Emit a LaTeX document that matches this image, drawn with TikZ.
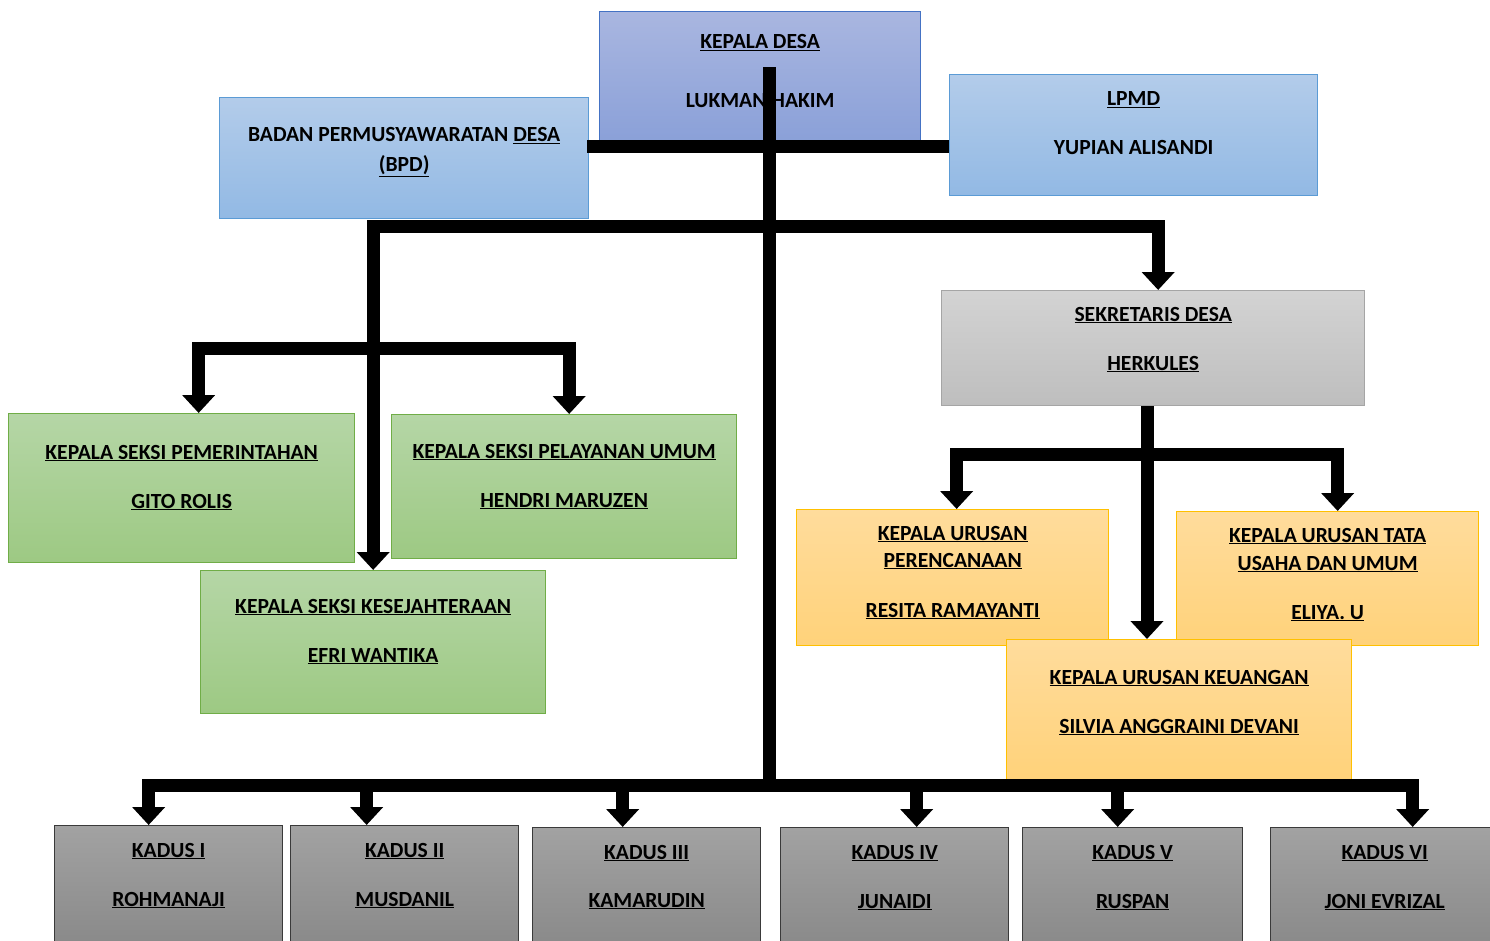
\documentclass[tikz,border=0pt]{standalone}
\usepackage{fontspec}
\setmainfont{Carlito}
\usetikzlibrary{positioning,arrows.meta}
\definecolor{hdtop}{HTML}{A9B6E0}
\definecolor{hdbot}{HTML}{8AA0D8}
\definecolor{hdline}{HTML}{4472C4}
\definecolor{bltop}{HTML}{B3CCEA}
\definecolor{blbot}{HTML}{92B9E4}
\definecolor{blline}{HTML}{5B9BD5}
\definecolor{grtop}{HTML}{D3D3D3}
\definecolor{grbot}{HTML}{BEBEBE}
\definecolor{grline}{HTML}{A5A5A5}
\definecolor{gntop}{HTML}{B5D6A6}
\definecolor{gnbot}{HTML}{9DC983}
\definecolor{gnline}{HTML}{70AD47}
\definecolor{ortop}{HTML}{FFDC9C}
\definecolor{orbot}{HTML}{FFD27A}
\definecolor{orline}{HTML}{FFC000}
\definecolor{kdtop}{HTML}{A2A2A2}
\definecolor{kdbot}{HTML}{858585}
\definecolor{kdline}{HTML}{3A3A3A}
\newcommand{\unl}[1]{\underline{#1}}

\begin{document}
\begin{tikzpicture}[
  x=1pt, y=-1pt,
  bx/.style={rectangle, anchor=north west, line width=1.3pt, inner sep=0pt},
  bxhead/.style={bx, draw=hdline, top color=hdtop, bottom color=hdbot},
  bxblue/.style={bx, draw=blline, top color=bltop, bottom color=blbot},
  bxgrey/.style={bx, draw=grline, top color=grtop, bottom color=grbot},
  bxgreen/.style={bx, draw=gnline, top color=gntop, bottom color=gnbot},
  bxorange/.style={bx, draw=orline, top color=ortop, bottom color=orbot},
  bxkadus/.style={bx, draw=kdline, top color=kdtop, bottom color=kdbot},
  lbl/.style={anchor=base, inner sep=0pt, font=\fontsize{21.6}{24}\selectfont\bfseries},
  conn/.style={line width=13pt, line join=miter, line cap=rect, black},
  tipend/.style={-{Triangle[width=32pt,length=18pt]}},
  tipboth/.style={{Triangle[width=32pt,length=18pt]}-{Triangle[width=32pt,length=18pt]}},
]
\useasboundingbox (0,0) rectangle (1490,941);
\fill[white] (0,0) rectangle (1490,941);

% --- Top level ---
\node[bxhead, minimum width=321pt, minimum height=131pt] (kades) at (599,11) {};
\node[lbl] at ([yshift=-38pt]kades.north)
  {\begin{tabular}[t]{@{}c@{}}\unl{KEPALA DESA}\\[35pt]LUKMAN HAKIM\end{tabular}};

\node[bxblue, minimum width=369pt, minimum height=121pt] (bpd) at (219,97) {};
\node[lbl] at ([yshift=-45pt]bpd.north)
  {\begin{tabular}[t]{@{}c@{}}BADAN PERMUSYAWARATAN \unl{DESA}\\[6pt]\unl{(BPD)}\end{tabular}};

\node[bxblue, minimum width=368pt, minimum height=121pt] (lpmd) at (949,74) {};
\node[lbl] at ([yshift=-32pt]lpmd.north)
  {\begin{tabular}[t]{@{}c@{}}\unl{LPMD}\\[25pt]YUPIAN ALISANDI\end{tabular}};

\node[bxgrey, minimum width=423pt, minimum height=115pt] (sekdes) at (941,290) {};
\node[lbl] at ([yshift=-31pt]sekdes.north)
  {\begin{tabular}[t]{@{}c@{}}\unl{SEKRETARIS DESA}\\[25pt]\unl{HERKULES}\end{tabular}};

% --- Seksi ---
\node[bxgreen, minimum width=346pt, minimum height=149pt] (pem) at (8,413) {};
\node[lbl] at ([yshift=-46pt]pem.north)
  {\begin{tabular}[t]{@{}c@{}}\unl{KEPALA SEKSI PEMERINTAHAN}\\[25pt]\unl{GITO ROLIS}\end{tabular}};

\node[bxgreen, minimum width=345pt, minimum height=144pt] (pel) at (391,414) {};
\node[lbl] at ([yshift=-44pt]pel.north)
  {\begin{tabular}[t]{@{}c@{}}\unl{KEPALA SEKSI PELAYANAN UMUM}\\[25pt]\unl{HENDRI MARUZEN}\end{tabular}};

\node[bxgreen, minimum width=345pt, minimum height=143pt] (kesra) at (200,570) {};
\node[lbl] at ([yshift=-43pt]kesra.north)
  {\begin{tabular}[t]{@{}c@{}}\unl{KEPALA SEKSI KESEJAHTERAAN}\\[25pt]\unl{EFRI WANTIKA}\end{tabular}};

% --- Urusan ---
\node[bxorange, minimum width=312pt, minimum height=136pt] (ren) at (796,509) {};
\node[lbl] at ([yshift=-31pt]ren.north)
  {\begin{tabular}[t]{@{}c@{}}\unl{KEPALA URUSAN}\\[3pt]\unl{PERENCANAAN}\\[26pt]\unl{RESITA RAMAYANTI}\end{tabular}};

\node[bxorange, minimum width=302pt, minimum height=134pt] (tu) at (1176,511) {};
\node[lbl] at ([yshift=-31pt]tu.north)
  {\begin{tabular}[t]{@{}c@{}}\unl{KEPALA URUSAN TATA}\\[4pt]\unl{USAHA DAN UMUM}\\[25pt]\unl{ELIYA. U}\end{tabular}};

\node[bxorange, minimum width=345pt, minimum height=140pt] (keu) at (1006,639) {};
\node[lbl] at ([yshift=-45pt]keu.north)
  {\begin{tabular}[t]{@{}c@{}}\unl{KEPALA URUSAN KEUANGAN}\\[25pt]\unl{SILVIA ANGGRAINI DEVANI}\end{tabular}};

% --- Kadus ---
\node[bxkadus, minimum width=228pt, minimum height=140pt] (kd1) at (54,825) {};
\node[lbl] at ([yshift=-32pt]kd1.north)
  {\begin{tabular}[t]{@{}c@{}}\unl{KADUS I}\\[25pt]\unl{ROHMANAJI}\end{tabular}};
\node[bxkadus, minimum width=228pt, minimum height=140pt] (kd2) at (290,825) {};
\node[lbl] at ([yshift=-32pt]kd2.north)
  {\begin{tabular}[t]{@{}c@{}}\unl{KADUS II}\\[25pt]\unl{MUSDANIL}\end{tabular}};
\node[bxkadus, minimum width=228pt, minimum height=140pt] (kd3) at (532,827) {};
\node[lbl] at ([yshift=-32pt]kd3.north)
  {\begin{tabular}[t]{@{}c@{}}\unl{KADUS III}\\[24pt]\unl{KAMARUDIN}\end{tabular}};
\node[bxkadus, minimum width=228pt, minimum height=140pt] (kd4) at (780,827) {};
\node[lbl] at ([yshift=-32pt]kd4.north)
  {\begin{tabular}[t]{@{}c@{}}\unl{KADUS IV}\\[25pt]\unl{JUNAIDI}\end{tabular}};
\node[bxkadus, minimum width=220pt, minimum height=140pt] (kd5) at (1022,827) {};
\node[lbl] at ([yshift=-32pt]kd5.north)
  {\begin{tabular}[t]{@{}c@{}}\unl{KADUS V}\\[25pt]\unl{RUSPAN}\end{tabular}};
\node[bxkadus, minimum width=228pt, minimum height=140pt] (kd6) at (1270,827) {};
\node[lbl] at ([yshift=-32pt]kd6.north)
  {\begin{tabular}[t]{@{}c@{}}\unl{KADUS VI}\\[25pt]\unl{JONI EVRIZAL}\end{tabular}};

% --- Connectors ---
\coordinate (ttop) at (769,74);
\coordinate (jbpd) at (769,147);
\coordinate (jmid) at (769,227);
\coordinate (jsie) at (372,348);
\coordinate (jsek) at (1147,454);
\coordinate (jkad) at (769,785);

\draw[conn] (ttop) -- (jkad);
\draw[conn, line cap=butt] ([xshift=-2pt]bpd.east |- jbpd) -- (lpmd.west |- jbpd);
\draw[conn, tipboth] (kesra.north) |- ([xshift=5pt]sekdes.north |- jmid) -- ([xshift=5pt]sekdes.north);
\draw[conn, tipboth] ([xshift=17pt]pem.north) |- ([xshift=5pt]pel.north |- jsie) -- ([xshift=5pt]pel.north);
\draw[conn, line cap=butt, tipend] (sekdes.south -| jsek) -- (keu.north -| jsek);
\draw[conn, tipboth] ([xshift=4pt]ren.north) |- ([xshift=10pt]tu.north |- jsek) -- ([xshift=10pt]tu.north);

\draw[conn] ([xshift=-20pt]kd1.north |- jkad) -- ([xshift=28pt]kd6.north |- jkad);
\draw[conn, tipend] ([xshift=-20pt]kd1.north |- jkad) -- ([xshift=-20pt]kd1.north);
\draw[conn, tipend] ([xshift=-38pt]kd2.north |- jkad) -- ([xshift=-38pt]kd2.north);
\draw[conn, tipend] ([xshift=-24pt]kd3.north |- jkad) -- ([xshift=-24pt]kd3.north);
\draw[conn, tipend] ([xshift=22pt]kd4.north |- jkad) -- ([xshift=22pt]kd4.north);
\draw[conn, tipend] ([xshift=-15pt]kd5.north |- jkad) -- ([xshift=-15pt]kd5.north);
\draw[conn, tipend] ([xshift=28pt]kd6.north |- jkad) -- ([xshift=28pt]kd6.north);
\end{tikzpicture}
\end{document}
